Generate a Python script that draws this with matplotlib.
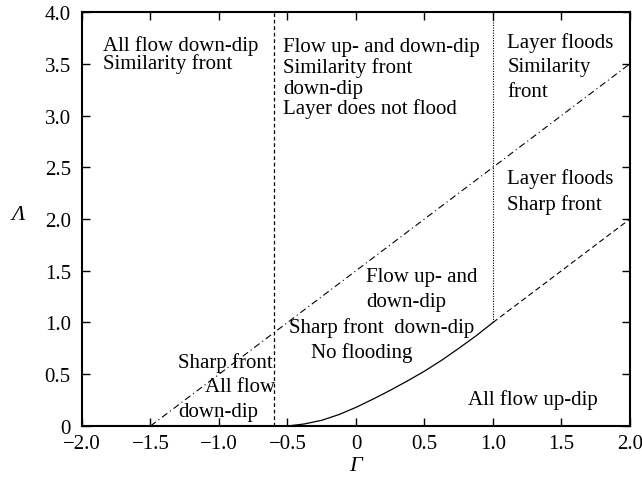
#!/usr/bin/env python3
"""Regime diagram in the (Gamma, Lambda) plane."""
import matplotlib
matplotlib.use('Agg')
import matplotlib.pyplot as plt

plt.rcParams.update({
    'font.family': 'Liberation Serif',
    'font.size': 15,
    'axes.linewidth': 1.5,
})

# boundary curves
ddot_gamma = [-1.5, 2.0]          # dash-dot line
ddot_lambda = [0.0, 3.5]
vdash_gamma = [-0.6, -0.6]        # vertical dashed line
vdash_lambda = [0.0, 4.0]
vdot_gamma = [1.0, 1.0]           # vertical dotted line
vdot_lambda = [1.0, 4.0]
solid_gamma = [-0.5, -0.375, -0.25, -0.125, 0.0, 0.125, 0.25, 0.375,
               0.5, 0.625, 0.75, 0.875, 1.0]
solid_lambda = [0.0, 0.02, 0.055, 0.11, 0.18, 0.26, 0.345, 0.435,
                0.53, 0.635, 0.75, 0.87, 1.0]
dash_gamma = [1.0, 2.0]           # dashed continuation
dash_lambda = [1.0, 2.0]

x_ticks = [-2.0, -1.5, -1.0, -0.5, 0.0, 0.5, 1.0, 1.5, 2.0]
x_tick_labels = ['\u22122.0', '\u22121.5', '\u22121.0', '\u22120.5', '0',
                 '0.5', '1.0', '1.5', '2.0']
y_ticks = [0.0, 0.5, 1.0, 1.5, 2.0, 2.5, 3.0, 3.5, 4.0]
y_tick_labels = ['0', '0.5', '1.0', '1.5', '2.0', '2.5', '3.0', '3.5', '4.0']

# region labels, one entry per line: (gamma, lambda baseline, text)
labels = [
    (-1.85, 3.63, 'All flow down-dip'),
    (-1.85, 3.46, 'Similarity front'),
    (-0.533, 3.626, 'Flow up- and down-dip'),
    (-0.533, 3.42, 'Similarity front'),
    (-0.533, 3.22, 'down-dip'),
    (-0.533, 3.02, 'Layer does not flood'),
    (1.105, 3.665, 'Layer floods'),
    (1.105, 3.43, 'Similarity'),
    (1.105, 3.19, 'front'),
    (1.10, 2.345, 'Layer floods'),
    (1.10, 2.097, 'Sharp front'),
    (0.073, 1.404, 'Flow up- and'),
    (0.073, 1.162, 'down-dip'),
    (-0.487, 0.91, 'Sharp front  down-dip'),
    (-0.33, 0.67, 'No flooding'),
    (-1.297, 0.567, 'Sharp front'),
    (-1.10, 0.335, 'All flow'),
    (-1.297, 0.10, 'down-dip'),
    (0.82, 0.213, 'All flow up-dip'),
]

fig = plt.figure(figsize=(6.42, 4.89), dpi=100)
ax = fig.add_axes([0.1277, 0.1268, 0.8536, 0.8466])

ax.plot(ddot_gamma, ddot_lambda, color='black', lw=0.8, dashes=[6, 3, 1, 3])
ax.plot(vdash_gamma, vdash_lambda, color='black', lw=0.9, dashes=[3, 2.2])
ax.plot(vdot_gamma, vdot_lambda, color='black', lw=0.8, dashes=[1, 1.3])
ax.plot(solid_gamma, solid_lambda, color='black', lw=0.9)
ax.plot(dash_gamma, dash_lambda, color='black', lw=0.8, dashes=[5, 3])

for g, l, s in labels:
    ax.text(g, l, s, ha='left', va='baseline')

ax.set_xlim(-2, 2)
ax.set_ylim(0, 4)
ax.set_xticks(x_ticks)
ax.set_xticklabels(x_tick_labels)
ax.set_yticks(y_ticks)
ax.set_yticklabels(y_tick_labels)
ax.tick_params(direction='in', length=6, width=1, top=True, right=True)
ax.tick_params(axis='x', pad=6)
ax.tick_params(axis='y', pad=8)

ax.set_xlabel('\u0393', fontstyle='italic', fontsize=16)
ax.xaxis.set_label_coords(0.5, -0.095)
ax.xaxis.label.set_va('center')
ax.set_ylabel('\u039b', fontstyle='italic', fontsize=16, rotation=0)
ax.yaxis.set_label_coords(-0.115, 0.51)
ax.yaxis.label.set_va('center')

fig.savefig('out.png', dpi=100)
